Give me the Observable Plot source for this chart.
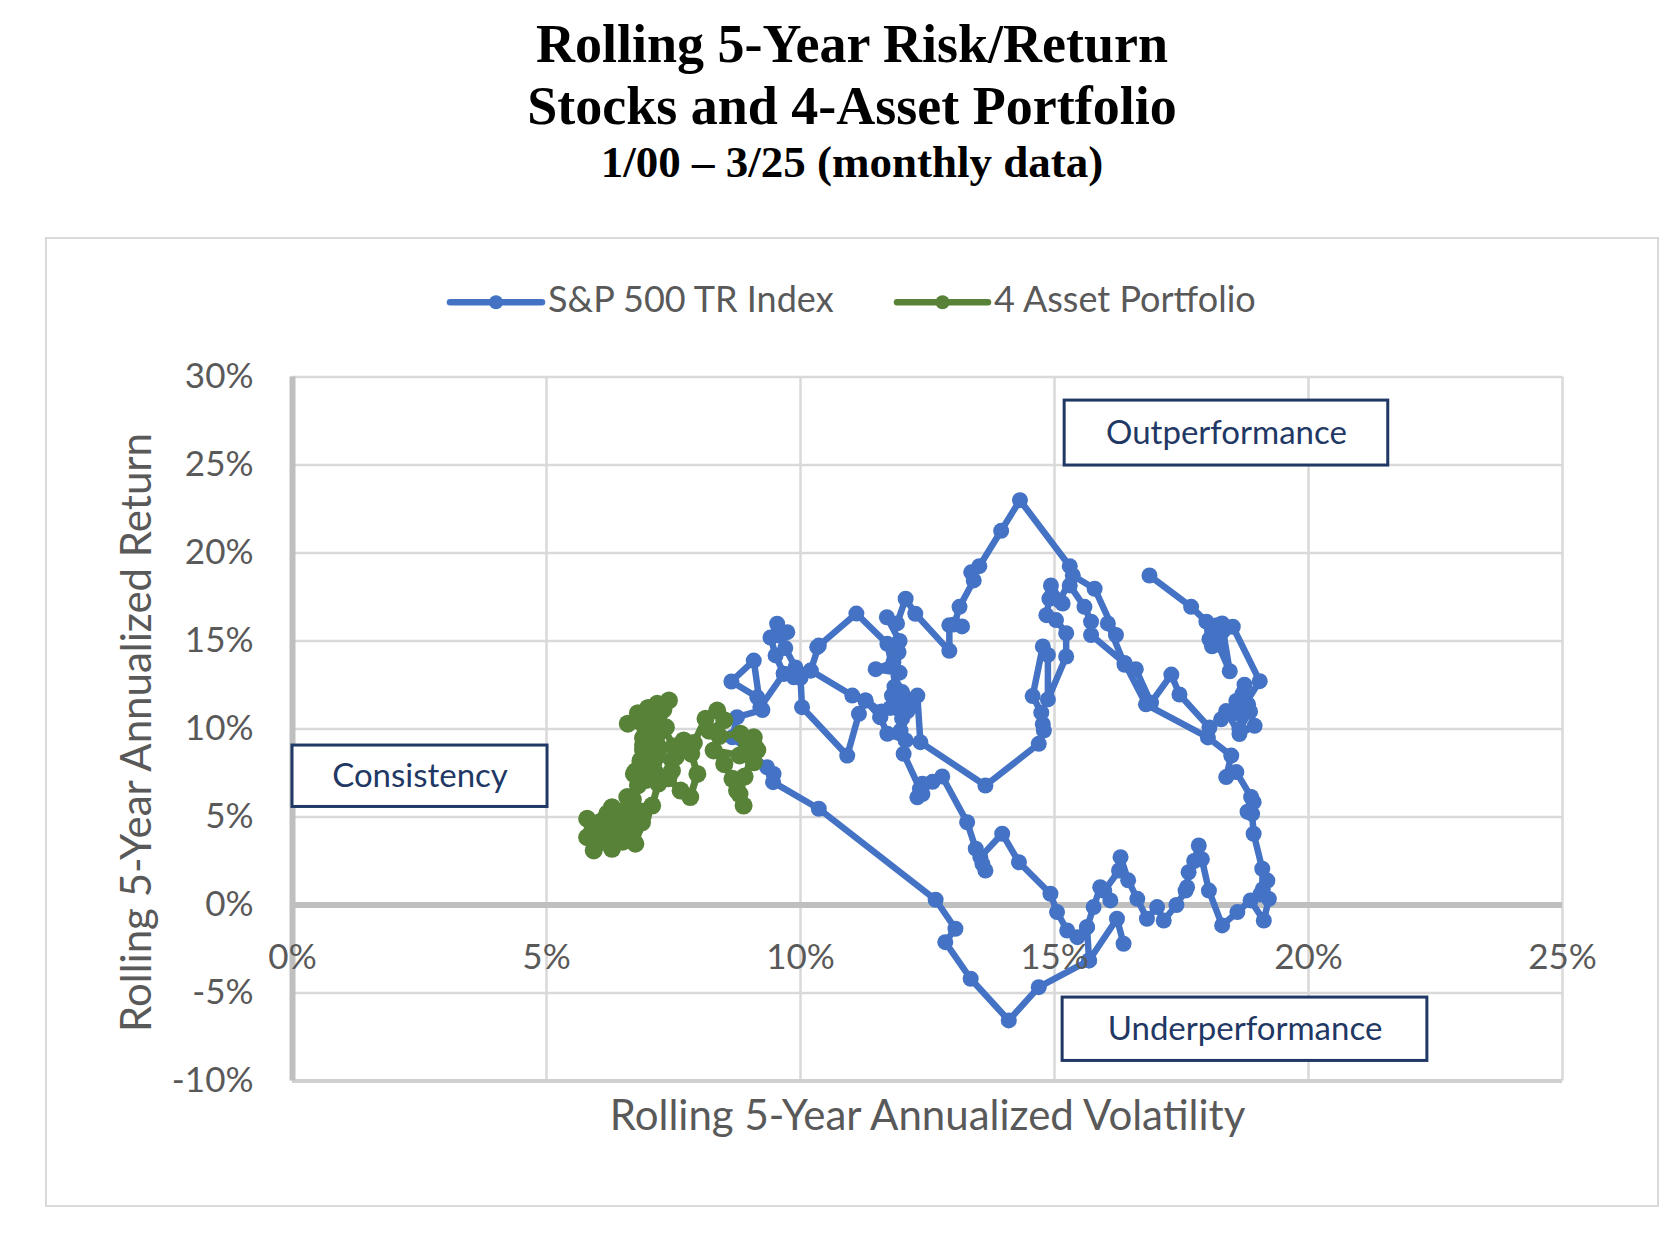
<!DOCTYPE html>
<html>
<head>
<meta charset="utf-8">
<script src="https://cdn.jsdelivr.net/npm/d3@7"></script>
<script src="https://cdn.jsdelivr.net/npm/@observablehq/plot@0.6"></script>
<style>
  html, body { margin: 0; padding: 0; background: #fff; overflow: hidden; }
  #page { position: relative; width: 1680px; height: 1234px; background: #fff; }
  #title { position: absolute; left: 52px; top: 12.8px; width: 1600px; text-align: center;
           font-family: "Liberation Serif", "Times New Roman", serif; font-weight: bold; color: #000; }
  #title .l1 { font-size: 54px; line-height: 62px; }
  #title .l3 { font-size: 45px; line-height: 50px; }
  #frame { position: absolute; left: 45px; top: 237px; width: 1610px; height: 966px;
           border: 2px solid #D9D9D9; pointer-events: none; }
  #chart { position: absolute; left: 0; top: 0; }
  #legend { position: absolute; left: 0; top: 270px; }
</style>
</head>
<body>
<div id="page">
  <div id="title">
    <div class="l1">Rolling 5-Year Risk/Return</div>
    <div class="l1">Stocks and 4-Asset Portfolio</div>
    <div class="l3">1/00 – 3/25 (monthly data)</div>
  </div>
  <div id="chart"></div>
  <svg id="legend" width="1680" height="64"></svg>
  <div id="frame"></div>
</div>
<script>
// ---- data ----
const xTicks = [0, 5, 10, 15, 20, 25];
const yTicks = [-10, -5, 0, 5, 10, 15, 20, 25, 30];
const seriesNames = ["S&P 500 TR Index", "4 Asset Portfolio"];
const xTitle = "Rolling 5-Year Annualized Volatility";
const yTitle = "Rolling 5-Year Annualized Return";

// [volatility %, return %] in time order
const sp500 = [
  [16.36,-2.2],[16.23,-0.78],[15.68,-3.15],[15.64,-1.26],[15.45,-1.83],[15.25,-1.45],[15.05,-0.4],[14.92,0.64],
  [14.3,2.43],[13.97,4.05],[13.54,2.72],[13.64,1.96],[13.58,2.34],[13.45,3.2],[13.28,4.7],[12.79,7.3],[12.6,7.0],[12.3,6.12],[12.4,6.3],[12.4,6.89],
  [12.35,6.6],[12.03,8.59],[12.07,9.35],[11.71,9.73],[11.57,10.67],[11.28,11.62],[11.02,11.9],[10.2,13.32],[9.67,13.14],[9.21,11.24],[9.08,13.89],[8.64,12.7],
  [9.15,11.8],[9.25,11.08],[8.75,10.67],[8.66,9.53],[9.34,7.83],[9.47,7.45],[9.46,6.98],[10.36,5.47],[12.66,0.3],[13.05,-1.35],[12.85,-2.11],
  [13.35,-4.19],[14.1,-6.56],[14.69,-4.67],[15.68,-3.15],[15.64,-1.26],[15.77,-0.12],[15.9,1.01],[16.1,0.26],[15.98,0.8],[16.27,1.96],[16.3,2.72],
  [16.45,1.4],[16.63,0.35],[16.82,-0.78],[17.02,-0.12],[17.15,-0.88],[17.4,0.0],[17.58,0.82],[17.61,1.01],[17.64,1.86],[17.75,2.5],[17.84,3.38],[17.9,2.6],
  [18.04,0.82],[18.3,-1.16],[18.6,-0.4],[18.86,0.26],[19.12,-0.88],[19.22,0.35],[19.05,0.6],[19.19,1.39],[19.1,0.9],[19.09,2.06],
  [18.92,4.05],[18.89,5.18],[18.8,5.3],[18.92,5.84],[18.87,6.14],[18.58,7.55],[18.38,7.27],[18.48,8.49],[18.02,9.52],[16.8,11.4],[16.38,13.75],[15.72,15.34],
  [15.72,16.1],[15.59,16.94],[15.3,18.16],[15.3,19.25],
  [14.32,23.0],[13.95,21.26],[13.52,19.25],[13.36,18.9],[13.41,18.44],[13.13,16.94],[13.03,15.94],[13.18,15.83],[12.93,15.9],[12.93,14.44],
  [12.26,16.55],[12.07,17.4],[11.9,16.0],[11.7,16.35],[11.95,15.0],[11.93,14.36],[11.83,13.8],[11.48,13.4],[11.95,13.2],[11.85,12.4],
  [12.1,11.6],[11.77,11.2],[12.0,10.6],[11.9,12.1],[11.71,14.84],[11.1,16.56],[10.33,14.65],[10.36,14.74],
  [10.2,13.32],[9.87,12.94],[9.67,13.14],[9.51,14.18],[9.41,15.2],[9.54,15.98],[9.74,15.5],[9.6,15.3],
  [9.7,14.6],[9.9,13.5],[10.0,12.9],[10.03,11.24],[10.92,8.49],[11.15,10.86],
  [11.28,11.62],[11.6,11.0],[11.57,10.67],[11.9,11.4],[12.0,12.1],[11.8,11.9],[12.1,11.0],[11.97,9.9],[12.2,11.3],[12.3,11.9],
  [12.36,9.25],[13.64,6.79],[14.69,9.16],[14.79,9.91],[14.77,10.27],[14.74,10.93],[14.57,11.87],[14.77,14.69],[14.87,14.21],[14.87,11.68],[15.23,14.12],[15.23,15.44],
  [15.03,16.19],[14.84,16.47],[14.9,17.4],[15.16,17.13],[14.95,17.6],[14.93,18.16],[15.1,17.3],[15.36,18.72],
  [15.79,17.97],[16.21,15.34],[16.05,16.0],[16.38,13.65],[16.6,13.4],[16.9,11.49],[17.3,13.09],[17.46,11.96],[18.05,10.08],[18.28,10.55],[18.38,11.02],[18.64,9.71],
  [18.94,10.18],[18.81,11.4],[18.58,11.59],[18.6,10.9],[18.74,12.52],[18.7,12.0],[18.85,11.0],[18.64,10.0],[18.7,11.2],[19.04,12.72],[18.51,15.81],
  [18.2,14.8],[18.25,15.2],[18.1,15.6],[18.45,13.28],[18.3,15.9],[18.15,15.3],[18.05,15.1],[18.3,16.0],[18.2,15.7],[18.1,15.2],[18.2,15.9],[18.1,14.7],
  [17.99,16.1],[17.69,16.94],[16.87,18.72]
];

const portfolio = [
  [7.05,8.9],[6.9,9.5],[7.1,10.1],[6.85,10.4],[6.6,10.3],[6.8,10.9],[7.0,11.2],[7.18,11.43],[7.41,11.62],[7.3,11.1],[7.1,10.6],[6.95,10.0],
  [7.15,9.6],[6.9,9.1],[7.05,8.6],[6.85,8.2],[7.0,7.8],[6.75,7.6],[6.72,7.45],[6.95,7.1],[7.15,7.5],[7.0,8.1],[7.2,8.5],[7.1,9.2],
  [6.95,9.7],[7.2,10.3],[7.05,10.8],[7.25,11.0],
  [7.35,10.1],[7.2,9.0],[7.47,7.64],[7.54,8.4],[7.7,9.35],[7.6,8.9],[7.85,8.6],[7.97,7.45],[7.83,6.13],[7.64,6.5],[7.4,7.2],[7.2,6.9],
  [7.08,5.65],[6.72,5.56],[6.59,6.13],[6.88,4.7],[6.75,3.48],[6.59,4.23],[6.45,3.9],[6.29,3.19],[6.2,3.7],[5.93,3.1],[5.8,3.85],[6.06,4.42],
  [5.8,4.9],[6.05,4.7],[6.29,5.56],[6.15,4.9],[6.4,4.5],[6.6,5.1],[6.5,3.6],[6.3,4.0],[6.1,3.6],[5.9,4.2],[6.2,5.2],[6.45,5.3],[6.75,4.4],[6.9,5.1],[6.7,6.0],
  [6.8,6.8],[6.95,7.4],[7.1,8.0],[6.9,8.8],[7.1,9.6],[7.0,10.4],[7.2,10.7],
  [7.5,9.0],[7.9,9.2],[8.13,10.58],[8.36,11.05],[8.5,10.5],[8.2,9.9],[8.4,9.6],[8.82,9.73],[9.08,9.53],[8.95,9.1],[9.15,8.8],[9.08,8.11],
  [8.8,8.5],[8.29,8.78],[8.5,8.0],[8.66,7.17],[8.75,6.5],[8.88,5.65],[8.8,6.3],[8.9,7.3],[9.05,8.4],[8.95,9.4],[9.1,9.0]
];

// callout boxes, in data units (volatility %, return %)
const callouts = [
  {label: "Outperformance",   x1: 15.2,  x2: 21.57, y1: 24.97, y2: 28.66},
  {label: "Consistency",      x1: 0,     x2: 5.02,  y1: 5.57,  y2: 9.06},
  {label: "Underperformance", x1: 15.16, x2: 22.34, y1: -8.86, y2: -5.26}
];

// ---- styles ----
const colors = ["#4472C4", "#578238"];
const grey = "#595959";
const navy = "#1F3864";
const font = "Lato, 'Open Sans', sans-serif";

const vol = d => d[0], ret = d => d[1];

const chart = Plot.plot({
  width: 1680,
  height: 1234,
  marginLeft: 292,
  marginRight: 118,
  marginTop: 376.5,
  marginBottom: 153.5,
  style: {background: "transparent", fontFamily: font},
  x: {domain: [0, 25], axis: null},
  y: {domain: [-10, 30], axis: null},
  marks: [
    Plot.gridY(yTicks, {stroke: "#D9D9D9", strokeOpacity: 1, strokeWidth: 2.5}),
    Plot.gridX(xTicks, {stroke: "#D9D9D9", strokeOpacity: 1, strokeWidth: 2.5}),
    Plot.ruleY([-10], {stroke: "#D0D0D0", strokeWidth: 4}),
    Plot.ruleY([0], {stroke: "#BFBFBF", strokeWidth: 6}),
    Plot.ruleX([0], {stroke: "#BFBFBF", strokeWidth: 6}),
    Plot.rect(callouts, {x1: "x1", x2: "x2", y1: "y1", y2: "y2", fill: "white", stroke: navy, strokeWidth: 3}),
    Plot.text(callouts, {x: d => (d.x1 + d.x2) / 2, y: d => (d.y1 + d.y2) / 2, text: "label",
      fill: navy, fontSize: 33, fontFamily: font}),
    Plot.line(sp500, {x: vol, y: ret, stroke: colors[0], strokeWidth: 6.5}),
    Plot.dot(sp500, {x: vol, y: ret, r: 8, fill: colors[0], stroke: null}),
    Plot.line(portfolio, {x: vol, y: ret, stroke: colors[1], strokeWidth: 7}),
    Plot.dot(portfolio, {x: vol, y: ret, r: 9, fill: colors[1], stroke: null}),
    Plot.text(yTicks, {x: () => 0, y: d => d, text: d => `${d}%`, textAnchor: "end", dx: -39,
      fontSize: 35, fill: grey, fontFamily: font}),
    Plot.text(xTicks, {x: d => d, y: () => 0, text: d => `${d}%`, lineAnchor: "bottom", dy: 63.5,
      fontSize: 35, fill: grey, fontFamily: font}),
    Plot.text([xTitle], {frameAnchor: "bottom", textAnchor: "middle", lineAnchor: "bottom", dy: 48.5,
      fontSize: 42, fill: grey, fontFamily: font}),
    Plot.text([yTitle], {frameAnchor: "left", textAnchor: "middle", rotate: -90, lineAnchor: "bottom", dx: -142, dy: 3.5,
      fontSize: 42, fill: grey, fontFamily: font})
  ]
});
document.getElementById("chart").appendChild(chart);

// ---- legend ----
const legend = d3.select("#legend");
const legendItems = [
  {name: seriesNames[0], color: colors[0], x0: 450, x1: 542, tx: 548},
  {name: seriesNames[1], color: colors[1], x0: 897, x1: 988, tx: 994}
];
const ly = 32.3;
for (const it of legendItems) {
  legend.append("line").attr("x1", it.x0).attr("x2", it.x1).attr("y1", ly).attr("y2", ly)
    .attr("stroke", it.color).attr("stroke-width", 6.5).attr("stroke-linecap", "round");
  legend.append("circle").attr("cx", (it.x0 + it.x1) / 2).attr("cy", ly).attr("r", 7).attr("fill", it.color);
  legend.append("text").attr("x", it.tx).attr("y", 41.7).text(it.name)
    .attr("fill", grey).attr("font-size", 36).attr("font-family", font);
}
</script>
</body>
</html>
